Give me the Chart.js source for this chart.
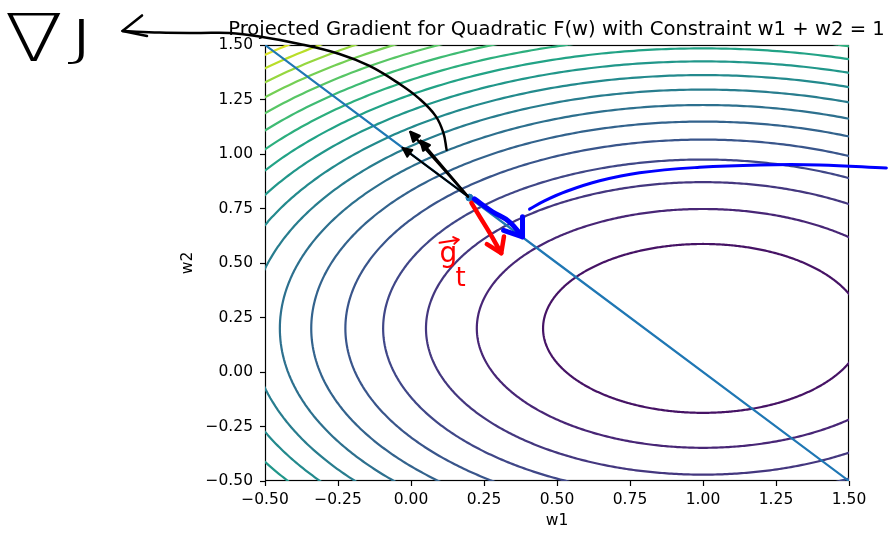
<!DOCTYPE html>
<html>
<head>
<meta charset="utf-8">
<script src="https://cdn.jsdelivr.net/npm/chart.js@4.4.1/dist/chart.umd.min.js"></script>
<style>
    html, body { margin: 0; padding: 0; background: #ffffff; }
    #wrap { width: 890px; height: 540px; }
</style>
</head>
<body>
<div id="wrap"><canvas id="myChart" width="890" height="540"></canvas></div>
<script>
//Quadratic F(w) = 1*(w1 - 1)^2 + 2*(w2 - 0.2)^2
var centerW1 = 1.0;
var centerW2 = 0.2;
var weightW1 = 1;
var weightW2 = 2;
var levels = [0.3, 0.6, 0.9, 1.2, 1.5, 1.8, 2.1, 2.4, 2.7, 3.0, 3.3, 3.6, 3.9, 4.2, 4.5, 4.8, 5.1, 5.4];
var topLevel = 5.7;

//Constraint w1 + w2 = 1 and the current point
var constraintW1 = [-0.5, 1.5];
var constraintW2 = [1.5, -0.5];
var pointW1 = [0.2];
var pointW2 = [0.8];

var tickValues = [-0.5, -0.25, 0, 0.25, 0.5, 0.75, 1.0, 1.25, 1.5];
var titleText = "Projected Gradient for Quadratic F(w) with Constraint w1 + w2 = 1";

//Hand drawn notes, in (w1, w2) units, the arrow tip is the last point
var nablaCurveW1 = [0.122, 0.111, 0.084, 0.029, -0.039, -0.142, -0.245, -0.382, -0.519, -0.622, -0.724, -0.861, -0.988];
var nablaCurveW2 = [1.019, 1.097, 1.175, 1.253, 1.321, 1.404, 1.459, 1.505, 1.539, 1.555, 1.555, 1.557, 1.564];
var gradLongW1 = [0.195, -0.002];
var gradLongW2 = [0.805, 1.101];
var gradShortW1 = [0.195, 0.033];
var gradShortW2 = [0.805, 1.060];
var gradProjW1 = [0.195, -0.029];
var gradProjW2 = [0.805, 1.028];
var redArrowW1 = [0.207, 0.238, 0.269, 0.309];
var redArrowW2 = [0.776, 0.707, 0.639, 0.545];
var blueArrowW1 = [0.217, 0.279, 0.337, 0.382];
var blueArrowW2 = [0.794, 0.735, 0.689, 0.620];
var blueCurveW1 = [0.406, 0.457, 0.533, 0.646, 0.783, 0.988, 1.193, 1.399, 1.628];
var blueCurveW2 = [0.747, 0.785, 0.829, 0.877, 0.914, 0.939, 0.950, 0.950, 0.936];
var gBarW1 = [0.098, 0.163];
var gBarW2 = [0.593, 0.607];

var noteText = ["\u2207", "J", "g", "t"];
var noteW1 = [-1.392, -1.176, 0.098, 0.152];
var noteW2 = [1.425, 1.453, 0.506, 0.396];

//viridis key colours
var viridisStops = [
    [68, 1, 84], [72, 36, 117], [65, 68, 135], [53, 95, 141], [42, 120, 142], [33, 145, 140],
    [34, 168, 132], [68, 191, 112], [122, 209, 81], [189, 223, 38], [253, 231, 37]
];

function viridis(t) {
    var n = viridisStops.length - 1;
    var i = Math.min(n - 1, Math.floor(t * n));
    var f = t * n - i;
    var a = viridisStops[i];
    var b = viridisStops[i + 1];
    var c = [0, 1, 2].map(function (k) { return Math.round(a[k] + (b[k] - a[k]) * f); });
    return "rgb(" + c.join(",") + ")";
}

function zipPoints(xs, ys) {
    return xs.map(function (v, i) { return { x: v, y: ys[i] }; });
}

//Level curve F(w) = level
function contourPoints(level) {
    var a = Math.sqrt(level / weightW1);
    var b = Math.sqrt(level / weightW2);
    var pts = [];
    for (var k = 0; k <= 360; k++) {
        var t = k * Math.PI / 180;
        pts.push({ x: centerW1 + a * Math.cos(t), y: centerW2 + b * Math.sin(t) });
    }
    return pts;
}

function stroke(xs, ys, color, width, tension, head) {
    return {
        data: zipPoints(xs, ys),
        showLine: true,
        borderColor: color,
        borderWidth: width,
        borderCapStyle: "round",
        borderJoinStyle: "round",
        pointRadius: 0,
        tension: tension,
        clip: false,
        order: 0,
        head: head
    };
}

var datasets = [];

levels.forEach(function (level) {
    datasets.push({
        data: contourPoints(level),
        showLine: true,
        borderColor: viridis(level / topLevel),
        borderWidth: 2.2,
        borderJoinStyle: "round",
        pointRadius: 0,
        tension: 0.01,
        order: 3
    });
});

datasets.push({
    data: zipPoints(constraintW1, constraintW2),
    showLine: true,
    borderColor: "#1f77b4",
    borderWidth: 2.2,
    pointRadius: 0,
    tension: 0.01,
    order: 2
});

datasets.push({
    data: zipPoints(pointW1, pointW2),
    showLine: false,
    pointRadius: 3.5,
    backgroundColor: "#1f77b4",
    borderColor: "#1f77b4",
    order: 1
});

datasets.push(stroke(nablaCurveW1, nablaCurveW2, "#000000", 2.5, 0.4, { len: 25, angles: [-41, 9] }));
datasets.push(stroke(gradLongW1, gradLongW2, "#000000", 2.5, 0, { len: 10, angles: [-25, 25], fill: true }));
datasets.push(stroke(gradShortW1, gradShortW2, "#000000", 2.5, 0, { len: 10, angles: [-25, 25], fill: true }));
datasets.push(stroke(gradProjW1, gradProjW2, "#000000", 2, 0, { len: 10, angles: [-25, 25], fill: true }));
datasets.push(stroke(redArrowW1, redArrowW2, "#ff0000", 4.5, 0.4, { len: 17, angles: [-28, 39] }));
datasets.push(stroke(blueArrowW1, blueArrowW2, "#0000ff", 5, 0.4, { len: 20, angles: [41, -30] }));
datasets.push(stroke(blueCurveW1, blueCurveW2, "#0000ff", 3, 0.4, null));
datasets.push(stroke(gBarW1, gBarW2, "#ff0000", 2, 0, { len: 6, angles: [-35, 35] }));

//Frame round the plot area and the title above it
var frame = {
    id: "frame",
    beforeDatasetsDraw: function (chart) {
        var a = chart.chartArea;
        var ctx = chart.ctx;
        ctx.save();
        ctx.strokeStyle = "#000000";
        ctx.lineWidth = 1.2;
        ctx.strokeRect(a.left + 0.5, a.top + 0.5, a.right - a.left - 1, a.bottom - a.top - 1);
        ctx.font = "19.6px 'DejaVu Sans'";
        ctx.fillStyle = "#000000";
        ctx.textAlign = "center";
        ctx.textBaseline = "alphabetic";
        ctx.fillText(titleText, (a.left + a.right) / 2 - 0.5, a.top - 10);
        ctx.restore();
    }
};

//Arrow heads at the last point of a stroke
var arrowHeads = {
    id: "arrowHeads",
    afterDatasetsDraw: function (chart) {
        var ctx = chart.ctx;
        chart.data.datasets.forEach(function (ds, i) {
            if (!ds.head) {
                return;
            }
            var pts = chart.getDatasetMeta(i).data;
            var tip = pts[pts.length - 1];
            var prev = pts[pts.length - 2];
            var back = Math.atan2(prev.y - tip.y, prev.x - tip.x);
            var a1 = back + ds.head.angles[0] * Math.PI / 180;
            var a2 = back + ds.head.angles[1] * Math.PI / 180;
            ctx.save();
            ctx.strokeStyle = ds.borderColor;
            ctx.fillStyle = ds.borderColor;
            ctx.lineWidth = ds.borderWidth;
            ctx.lineCap = "round";
            ctx.lineJoin = "round";
            ctx.beginPath();
            ctx.moveTo(tip.x + ds.head.len * Math.cos(a1), tip.y + ds.head.len * Math.sin(a1));
            ctx.lineTo(tip.x, tip.y);
            ctx.lineTo(tip.x + ds.head.len * Math.cos(a2), tip.y + ds.head.len * Math.sin(a2));
            if (ds.head.fill) {
                ctx.closePath();
                ctx.fill();
            }
            ctx.stroke();
            ctx.restore();
        });
    }
};

//Hand written labels: font and horizontal stretch
var noteFonts = ["200 66px 'DejaVu Sans'", "200 50px 'DejaVu Sans'", "28px 'DejaVu Sans'", "26px 'DejaVu Sans'"];
var noteStretch = [1.3, 1.9, 1, 1];
var noteColors = ["#000000", "#000000", "#ff0000", "#ff0000"];

var notes = {
    id: "notes",
    afterDatasetsDraw: function (chart) {
        var ctx = chart.ctx;
        var xs = chart.scales.x;
        var ys = chart.scales.y;
        noteText.forEach(function (t, i) {
            ctx.save();
            ctx.translate(xs.getPixelForValue(noteW1[i]), ys.getPixelForValue(noteW2[i]));
            ctx.scale(noteStretch[i], 1);
            ctx.font = noteFonts[i];
            ctx.fillStyle = noteColors[i];
            ctx.textAlign = "left";
            ctx.textBaseline = "alphabetic";
            ctx.fillText(t, 0, 0);
            ctx.restore();
        });
    }
};

function tickLabel(v) {
    return (v < 0 ? "\u2212" : "") + Math.abs(v).toFixed(2);
}

var tickFont = { family: "'DejaVu Sans'", size: 15.5, lineHeight: 1.2 };

var chart = new Chart("myChart", {
    type: "scatter",
    data: { datasets: datasets },
    plugins: [frame, arrowHeads, notes],
    options: {
        responsive: false,
        animation: false,
        events: [],
        layout: { padding: { left: 0, right: 41, top: 45, bottom: 0 } },
        plugins: {
            legend: { display: false },
            tooltip: { enabled: false },
            title: { display: false }
        },
        scales: {
            x: {
                type: "linear",
                min: -0.5,
                max: 1.5,
                afterBuildTicks: function (s) {
                    s.ticks = tickValues.map(function (v) { return { value: v }; });
                },
                afterFit: function (s) {
                    s.height = 59;
                    s.paddingLeft = 0;
                    s.paddingRight = 0;
                },
                border: { display: false },
                grid: { drawOnChartArea: false, drawTicks: true, tickLength: 5, tickColor: "#000000", tickWidth: 1.2 },
                ticks: { color: "#000000", font: tickFont, padding: 4.6, maxRotation: 0, autoSkip: false, callback: tickLabel },
                title: { display: true, text: "w1", color: "#000000", font: tickFont, padding: { top: 0, bottom: 9.7 } }
            },
            y: {
                type: "linear",
                min: -0.5,
                max: 1.5,
                afterBuildTicks: function (s) {
                    s.ticks = tickValues.map(function (v) { return { value: v }; });
                },
                afterFit: function (s) {
                    s.width = 265;
                    s.paddingTop = 0;
                    s.paddingBottom = 0;
                },
                border: { display: false },
                grid: { drawOnChartArea: false, drawTicks: true, tickLength: 5, tickColor: "#000000", tickWidth: 1.2 },
                ticks: { color: "#000000", font: tickFont, padding: 7, autoSkip: false, callback: tickLabel },
                title: { display: true, text: "w2", color: "#000000", font: tickFont, padding: { top: 178.7, bottom: 0 } }
            }
        }
    }
});
</script>
</body>
</html>
